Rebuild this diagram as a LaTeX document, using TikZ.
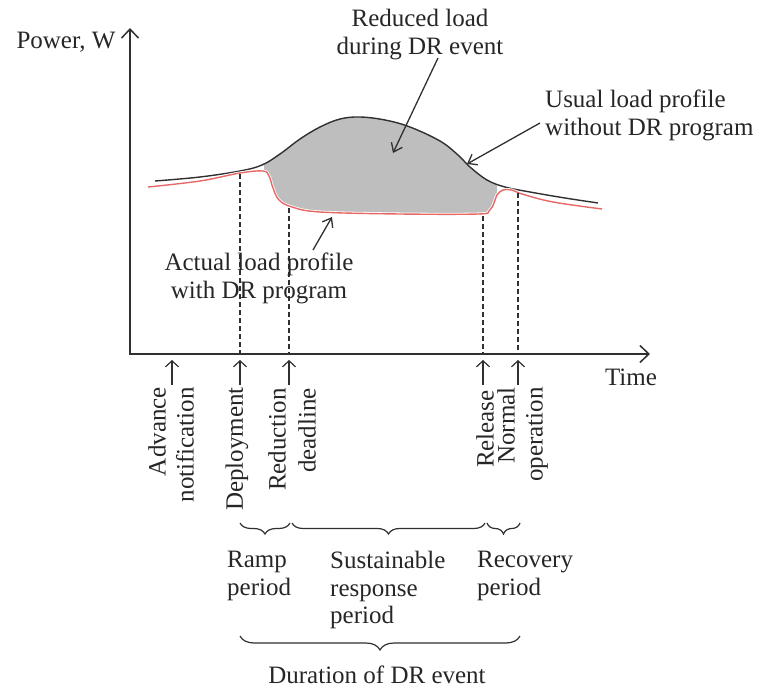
\documentclass[tikz,border=0pt]{standalone}
\usepackage{fontspec}
\setmainfont{Liberation Serif}
\usetikzlibrary{arrows.meta,decorations.pathreplacing}
\definecolor{txt}{HTML}{262626}
\definecolor{axc}{HTML}{303030}
\definecolor{fillg}{HTML}{BEBEBE}
\definecolor{redc}{HTML}{E86868}
\begin{document}
\begin{tikzpicture}[x=1pt,y=-1pt,
  lbl/.style={font=\fontsize{25}{27.5}\selectfont, text=txt, inner sep=0pt},
  rlbl/.style={lbl, rotate=90, anchor=east},
  axisline/.style={line width=1.5pt, draw=axc},
  uparr/.style={line width=1.2pt, draw=axc, -{Straight Barb[length=6pt,width=13pt]}},
  ann/.style={line width=1.3pt, draw=axc, -{Straight Barb[length=8pt,width=12pt]}},
  dashline/.style={line width=1.2pt, draw=axc, dash pattern=on 5pt off 3pt},
  brc/.style={decorate, decoration={brace, mirror, amplitude=#1}, line width=1.2pt, draw=axc},
]
\useasboundingbox (0,0) rectangle (761,693);

% axes
\coordinate (O) at (130,354);
\coordinate (ytop) at (130,28);
\coordinate (xend) at (650,354);
\draw[axisline, {Straight Barb[length=9pt,width=17pt]}-{Straight Barb[length=9pt,width=17pt]}] (ytop) -- (O) -- (xend);

% gray area between curves
\begin{scope}
\clip (264,0) rectangle (497,354);
\clip plot[smooth,tension=0.6] coordinates {(155,181) (200,177) (240,171) (262,165) (280,154) (300,139) (320,127) (340,119) (360,117) (385,120) (410,127) (440,141) (458,155) (470,167) (487,180) (505,187) (530,192) (565,198) (598,203)} -- (598,400) -- (155,400) -- cycle;
\fill[fillg] plot[smooth,tension=0.6] coordinates {(148,187) (200,181) (240,173) (263,171) (269,176) (273,188) (279,200) (292,207) (320,212) (400,214) (478,214) (489,211) (494,203) (497,195) (503,190) (512,190) (522,194) (553,202) (602,209)} -- (602,0) -- (148,0) -- cycle;
\end{scope}

% usual load profile (black)
\draw[line width=1.4pt, draw=axc] plot[smooth,tension=0.6] coordinates {(155,181) (200,177) (240,171) (262,165) (280,154) (300,139) (320,127) (340,119) (360,117) (385,120) (410,127) (440,141) (458,155) (470,167) (487,180) (505,187) (530,192) (565,198) (598,203)};
% actual load profile (red with white halo)
\draw[line width=3pt, white] plot[smooth,tension=0.6] coordinates {(148,187) (200,181) (240,173) (263,171) (269,176) (273,188) (279,200) (292,207) (320,212) (400,214) (478,214) (489,211) (494,203) (497,195) (503,190) (512,190) (522,194) (553,202) (602,209)};
\draw[line width=1.4pt, redc] plot[smooth,tension=0.6] coordinates {(148,187) (200,181) (240,173) (263,171) (269,176) (273,188) (279,200) (292,207) (320,212) (400,214) (478,214) (489,211) (494,203) (497,195) (503,190) (512,190) (522,194) (553,202) (602,209)};

% dashed markers
\coordinate (d1t) at (240,174); \coordinate (d1b) at (240,354);
\coordinate (d2t) at (289,208); \coordinate (d2b) at (289,354);
\coordinate (d3t) at (483,216); \coordinate (d3b) at (483,354);
\coordinate (d4t) at (518,193); \coordinate (d4b) at (518,354);
\draw[dashline] (d1t) -- (d1b);
\draw[dashline] (d2t) -- (d2b);
\draw[dashline] (d3t) -- (d3b);
\draw[dashline] (d4t) -- (d4b);

% up arrows under the time axis
\coordinate (u0b) at (172,385); \coordinate (u0t) at (172,360);
\coordinate (u1b) at (240,385); \coordinate (u1t) at (240,360);
\coordinate (u2b) at (289,385); \coordinate (u2t) at (289,360);
\coordinate (u3b) at (483,385); \coordinate (u3t) at (483,360);
\coordinate (u4b) at (518,385); \coordinate (u4t) at (518,360);
\draw[uparr] (u0b) -- (u0t);
\draw[uparr] (u1b) -- (u1t);
\draw[uparr] (u2b) -- (u2t);
\draw[uparr] (u3b) -- (u3t);
\draw[uparr] (u4b) -- (u4t);

% axis labels
\node[lbl, anchor=base] (power) at (66,49) {Power, W};
\node[lbl, anchor=base] (time) at (631,385) {Time};

% annotations
\node[lbl, anchor=north, align=center] (reduced) at (420,9) {Reduced load\\during DR event};
\coordinate (redtail) at (438,58);
\coordinate (redtip) at (393,153);
\draw[ann] (redtail) -- (redtip);

\node[lbl, anchor=north west, align=left] (usual) at (545,90) {Usual load profile\\without DR program};
\coordinate (usutail) at (540,123);
\coordinate (usutip) at (467,164);
\draw[ann] (usutail) -- (usutip);

\node[lbl, anchor=north, align=center] (actual) at (259,253) {Actual load profile\\with DR program};
\coordinate (acttail) at (313,250);
\coordinate (acttip) at (332,217);
\draw[ann] (acttail) -- (acttip);

% rotated time labels
\node[rlbl] (adv1) at (157,387) {Advance};
\node[rlbl] (adv2) at (185,387) {notification};
\node[rlbl] (dep) at (237,387) {Deployment};
\node[rlbl] (red1) at (277,388) {Reduction};
\node[rlbl] (red2) at (307,388) {deadline};
\node[rlbl] (rel) at (485,390) {Release};
\node[rlbl] (nor1) at (506,387) {Normal};
\node[rlbl] (nor2) at (537,387) {operation};

% braces
\coordinate (b1l) at (240,523); \coordinate (b1r) at (290,523);
\coordinate (b2l) at (292,523); \coordinate (b2r) at (485,523);
\coordinate (b3l) at (487,523); \coordinate (b3r) at (520,523);
\coordinate (b4l) at (240,636); \coordinate (b4r) at (520,636);
\draw[brc=11pt] (b1l) -- (b1r);
\draw[brc=11pt] (b2l) -- (b2r);
\draw[brc=11pt] (b3l) -- (b3r);
\draw[brc=14pt] (b4l) -- (b4r);

\node[lbl, anchor=north west, align=left] (ramp) at (227,551) {Ramp\\period};
\node[lbl, anchor=north west, align=left] (sust) at (330,551) {Sustainable\\response\\period};
\node[lbl, anchor=north west, align=left] (recov) at (477,551) {Recovery\\period};
\node[lbl, anchor=base] (dur) at (377,683) {Duration of DR event};
\end{tikzpicture}
\end{document}
